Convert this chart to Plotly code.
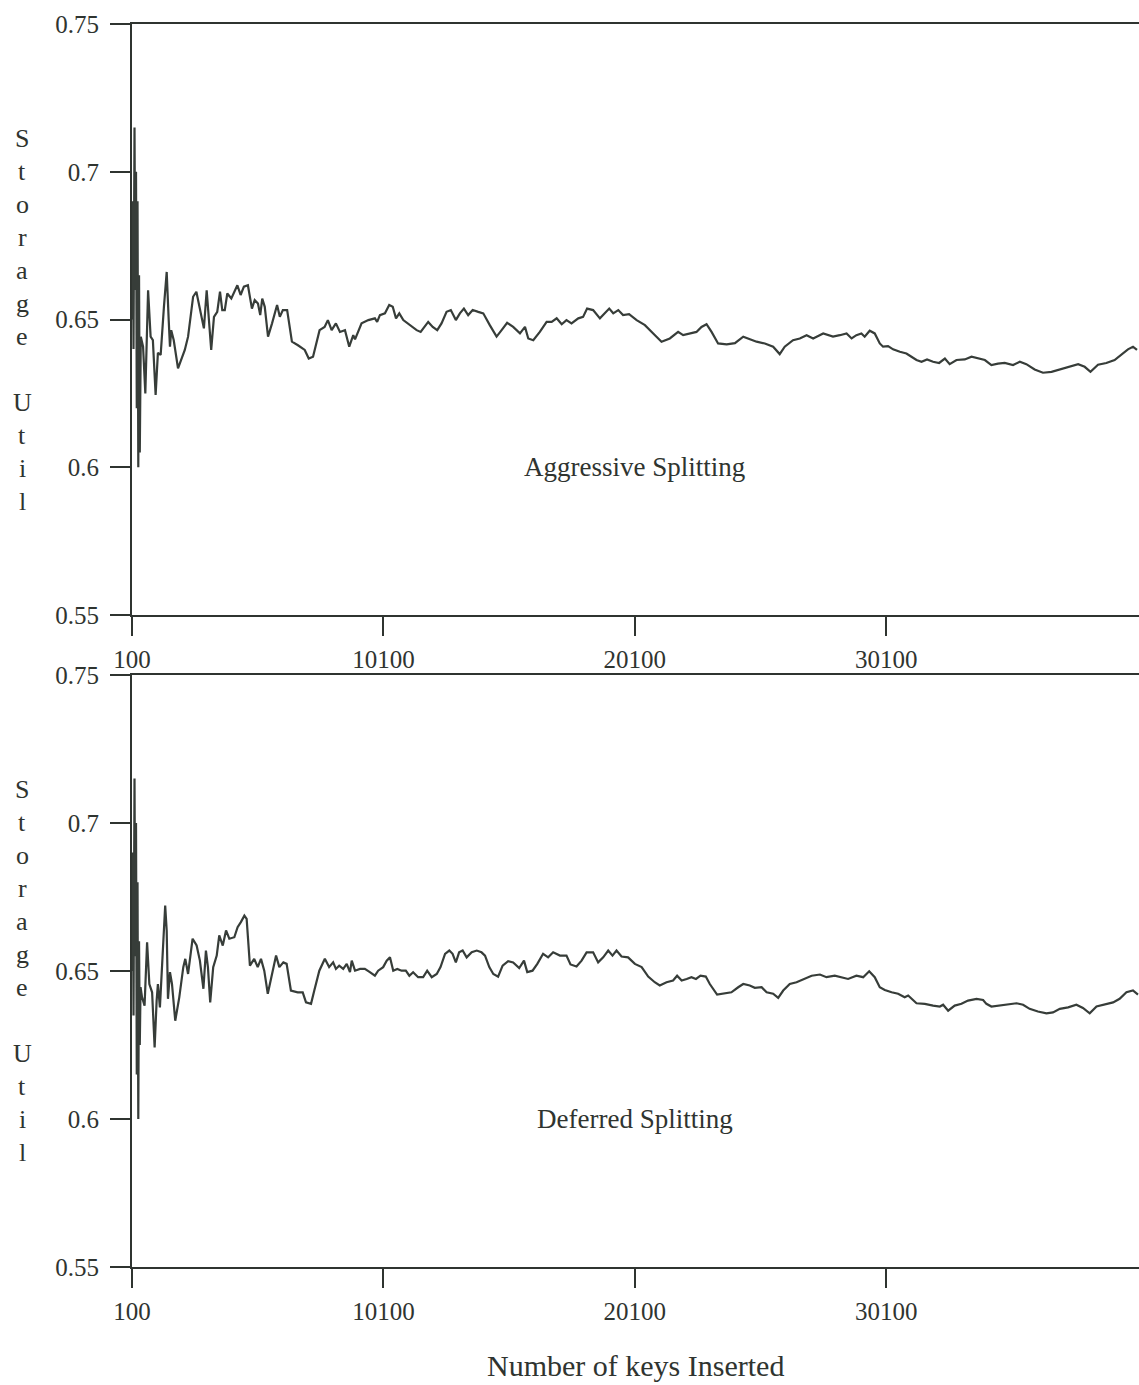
import plotly.graph_objects as go

# ---------------- data ----------------
aggr_keys = [100, 130, 160, 200, 230, 260, 290, 320, 350, 380, 410,
             450, 540, 630, 740, 840, 930, 1040, 1130, 1240, 1370, 1480, 1560, 1610, 1660, 1760,
             1930, 2060, 2200, 2330, 2530, 2660, 2790, 2960, 3070, 3150, 3250, 3360, 3490, 3600,
             3690, 3790, 3890, 4050, 4180, 4290, 4420, 4550, 4710, 4870, 4980, 5110, 5200, 5280,
             5380, 5510, 5670, 5870, 5980, 6100, 6270, 6460, 6700, 6970, 7130, 7300, 7560, 7760,
             7890, 8040, 8210, 8370, 8570, 8740, 8900, 8970, 9230, 9500, 9760, 9850, 9960, 10160,
             10330, 10470, 10600, 10730, 10890, 11150, 11420, 11580, 11880, 12060, 12240, 12410,
             12610, 12780, 12980, 13140, 13300, 13470, 13650, 13870, 14070, 14330, 14600, 14800,
             15020, 15260, 15530, 15730, 15860, 16060, 16320, 16590, 16790, 16990, 17190, 17380,
             17580, 17850, 18040, 18200, 18440, 18710, 18910, 19080, 19240, 19440, 19630, 19870,
             20170, 20500, 20830, 21160, 21490, 21820, 22020, 22290, 22550, 22750, 22950, 23150,
             23410, 23750, 24080, 24410, 24670, 24940, 25270, 25600, 25860, 26060, 26390, 26660,
             26930, 27190, 27590, 27980, 28250, 28520, 28720, 28910, 29110, 29240, 29440, 29640,
             29840, 29970, 30170, 30370, 30640, 30900, 31100, 31300, 31500, 31720, 31960, 32200,
             32430, 32620, 32890, 33220, 33490, 33750, 34020, 34280, 34540, 34810, 35140, 35410,
             35670, 36000, 36330, 36670, 37000, 37400, 37730, 37990, 38220, 38520, 38850, 39180,
             39450, 39710, 39910, 40070]
aggr_util = [0.650, 0.690, 0.640, 0.715, 0.660, 0.700, 0.620, 0.690, 0.600, 0.665, 0.605,
             0.6442, 0.6408, 0.6250, 0.6599, 0.6442, 0.6430, 0.6245, 0.6387, 0.6380, 0.6543, 0.6661, 0.6498, 0.6408, 0.6464, 0.6430,
             0.6335, 0.6363, 0.6397, 0.6442, 0.6577, 0.6594, 0.6543, 0.6470, 0.6599, 0.6492, 0.6397, 0.6509, 0.6526, 0.6594,
             0.6532, 0.6532, 0.6588, 0.6571, 0.6594, 0.6616, 0.6583, 0.6611, 0.6616, 0.6537, 0.6566, 0.6554, 0.6515, 0.6571,
             0.6543, 0.6442, 0.6487, 0.6549, 0.6509, 0.6532, 0.6532, 0.6425, 0.6413, 0.6397, 0.6368, 0.6374, 0.6464, 0.6475,
             0.6498, 0.6464, 0.6487, 0.6458, 0.6464, 0.6408, 0.6447, 0.6433, 0.6487, 0.6498, 0.6504, 0.6492, 0.6515, 0.6521,
             0.6549, 0.6543, 0.6504, 0.6521, 0.6498, 0.6481, 0.6464, 0.6458, 0.6492, 0.6475, 0.6464, 0.6487,
             0.6526, 0.6532, 0.6498, 0.6521, 0.6537, 0.6515, 0.6532, 0.6526, 0.6521, 0.6481, 0.6442, 0.6464,
             0.6489, 0.6475, 0.6453, 0.6475, 0.6436, 0.6430, 0.6458, 0.6492, 0.6492, 0.6504, 0.6484, 0.6498,
             0.6487, 0.6504, 0.6509, 0.6537, 0.6532, 0.6504, 0.6521, 0.6537, 0.6521, 0.6532, 0.6515, 0.6518,
             0.6498, 0.6481, 0.6453, 0.6425, 0.6436, 0.6458, 0.6447, 0.6453, 0.6458, 0.6475, 0.6484, 0.6458,
             0.6419, 0.6416, 0.6420, 0.6442, 0.6433, 0.6425, 0.6419, 0.6408, 0.6383, 0.6408, 0.6430, 0.6436,
             0.6447, 0.6436, 0.6453, 0.6442, 0.6447, 0.6453, 0.6436, 0.6447, 0.6453, 0.6442, 0.6462, 0.6453,
             0.6419, 0.6408, 0.6410, 0.6399, 0.6391, 0.6385, 0.6374, 0.6363, 0.6357, 0.6365, 0.6357, 0.6353,
             0.6368, 0.6349, 0.6363, 0.6365, 0.6374, 0.6368, 0.6363, 0.6346, 0.6351, 0.6353, 0.6346, 0.6357,
             0.6349, 0.6331, 0.6320, 0.6323, 0.6331, 0.6343, 0.6349, 0.6340, 0.6323, 0.6347, 0.6353, 0.6363,
             0.6380, 0.6399, 0.6408, 0.6397]

defer_keys = [100, 130, 160, 200, 230, 260, 290, 320, 350, 380, 410,
              440, 500, 600, 700, 790, 900, 1000, 1080, 1130, 1210, 1320, 1420, 1480, 1530, 1610,
              1690, 1820, 1980, 2140, 2220, 2330, 2510, 2670, 2800, 2940, 3040, 3120, 3210, 3330,
              3470, 3570, 3710, 3840, 3970, 4170, 4300, 4430, 4570, 4660, 4790, 4960, 5100, 5230,
              5360, 5500, 5670, 5830, 5960, 6120, 6250, 6420, 6690, 6890, 7020, 7220, 7350, 7550,
              7770, 7940, 8100, 8210, 8340, 8500, 8640, 8770, 8840, 8970, 9170, 9360, 9560, 9760,
              9890, 10090, 10230, 10360, 10490, 10650, 10820, 10990, 11130, 11280, 11480, 11680,
              11840, 12020, 12220, 12370, 12550, 12720, 12850, 12980, 13110, 13250, 13410, 13610,
              13810, 14000, 14140, 14310, 14470, 14660, 14840, 15060, 15260, 15500, 15690, 15820,
              16030, 16220, 16450, 16650, 16850, 17120, 17380, 17540, 17780, 17980, 18180, 18440,
              18640, 18840, 19040, 19210, 19370, 19570, 19830, 20100, 20370, 20630, 20890, 21090,
              21360, 21620, 21780, 21960, 22160, 22350, 22530, 22710, 22920, 23080, 23370, 23680,
              23940, 24210, 24410, 24670, 24870, 25140, 25340, 25600, 25800, 26000, 26260, 26530,
              26860, 27130, 27460, 27720, 28050, 28320, 28580, 28910, 29180, 29420, 29640, 29840,
              30040, 30310, 30570, 30830, 30970, 31300, 31630, 31960, 32230, 32360, 32560, 32820,
              33090, 33350, 33690, 33950, 34080, 34280, 34610, 34940, 35280, 35540, 35800, 36130,
              36470, 36730, 37000, 37330, 37660, 37920, 38190, 38460, 38790, 39120, 39380, 39650,
              39910, 40110]
defer_util = [0.650, 0.690, 0.635, 0.715, 0.655, 0.700, 0.615, 0.680, 0.600, 0.660, 0.625,
              0.6445, 0.6411, 0.6383, 0.6597, 0.6456, 0.6428, 0.6242, 0.6400, 0.6456, 0.6377, 0.6546, 0.6721, 0.6637, 0.6406, 0.6496,
              0.6456, 0.6332, 0.6411, 0.6513, 0.6541, 0.6490, 0.6609, 0.6586, 0.6535, 0.6440, 0.6569, 0.6513, 0.6394, 0.6513,
              0.6552, 0.6620, 0.6586, 0.6637, 0.6609, 0.6614, 0.6648, 0.6665, 0.6687, 0.6676, 0.6518, 0.6541, 0.6513, 0.6541,
              0.6501, 0.6423, 0.6490, 0.6552, 0.6513, 0.6529, 0.6524, 0.6434, 0.6428, 0.6428, 0.6394, 0.6389, 0.6434, 0.6501,
              0.6541, 0.6513, 0.6529, 0.6507, 0.6518, 0.6507, 0.6524, 0.6496, 0.6535, 0.6501, 0.6507, 0.6507, 0.6496, 0.6484,
              0.6501, 0.6513, 0.6535, 0.6546, 0.6501, 0.6507, 0.6501, 0.6501, 0.6484, 0.6496, 0.6479, 0.6479,
              0.6501, 0.6479, 0.6490, 0.6513, 0.6558, 0.6569, 0.6558, 0.6529, 0.6563, 0.6569, 0.6546, 0.6563,
              0.6569, 0.6563, 0.6552, 0.6513, 0.6490, 0.6481, 0.6518, 0.6533, 0.6529, 0.6510, 0.6535, 0.6496,
              0.6501, 0.6524, 0.6558, 0.6546, 0.6563, 0.6552, 0.6552, 0.6522, 0.6515, 0.6535, 0.6563, 0.6563,
              0.6529, 0.6546, 0.6569, 0.6552, 0.6569, 0.6549, 0.6546, 0.6524, 0.6513, 0.6481, 0.6462, 0.6451,
              0.6462, 0.6468, 0.6484, 0.6468, 0.6473, 0.6479, 0.6473, 0.6484, 0.6481, 0.6456, 0.6420, 0.6425,
              0.6428, 0.6445, 0.6456, 0.6451, 0.6443, 0.6445, 0.6428, 0.6423, 0.6409, 0.6434, 0.6456, 0.6462,
              0.6473, 0.6484, 0.6488, 0.6479, 0.6484, 0.6479, 0.6473, 0.6484, 0.6479, 0.6499, 0.6479, 0.6445,
              0.6436, 0.6428, 0.6423, 0.6411, 0.6417, 0.6391, 0.6389, 0.6383, 0.6380, 0.6386, 0.6366, 0.6383,
              0.6389, 0.6400, 0.6406, 0.6402, 0.6389, 0.6380, 0.6383, 0.6386, 0.6391, 0.6386, 0.6372, 0.6363,
              0.6357, 0.6360, 0.6372, 0.6377, 0.6386, 0.6375, 0.6357, 0.6380, 0.6386, 0.6394, 0.6406, 0.6428,
              0.6434, 0.6420]

x_tickvals = [100, 10100, 20100, 30100]
x_ticktext = ["100", "10100", "20100", "30100"]
y_tickvals = [0.55, 0.6, 0.65, 0.7, 0.75]
y_ticktext = ["0.55", "0.6", "0.65", "0.7", "0.75"]
panel_titles = ["Aggressive Splitting", "Deferred Splitting"]
y_title_letters = ["S", "t", "o", "r", "a", "g", "e", "", "U", "t", "i", "l"]
x_title = "Number of keys Inserted"

# ---------------- styling ----------------
FONT = "Liberation Serif"
INK = "#2f3430"
LINE = "#373d39"

fig = go.Figure()
fig.add_trace(go.Scatter(x=aggr_keys, y=aggr_util, mode="lines",
                         line=dict(color=LINE, width=2.2), xaxis="x", yaxis="y",
                         showlegend=False, hoverinfo="skip"))
fig.add_trace(go.Scatter(x=defer_keys, y=defer_util, mode="lines",
                         line=dict(color=LINE, width=2.2), xaxis="x2", yaxis="y2",
                         showlegend=False, hoverinfo="skip"))

xcommon = dict(range=[100, 40150], tickvals=x_tickvals, ticktext=x_ticktext,
               showline=True, linecolor=INK, linewidth=2, mirror=True,
               ticks="outside", ticklen=19, tickwidth=2, tickcolor=INK,
               showgrid=False, zeroline=False, ticklabelstandoff=2,
               tickfont=dict(family=FONT, size=25, color=INK))
ycommon = dict(range=[0.55, 0.75], tickvals=y_tickvals, ticktext=y_ticktext,
               showline=True, linecolor=INK, linewidth=2,
               ticks="outside", ticklen=20, tickwidth=2, tickcolor=INK,
               showgrid=False, zeroline=False, ticklabelstandoff=6,
               tickfont=dict(family=FONT, size=25, color=INK))

top_dom = [0.5245, 1.0]
bot_dom = [0.0, 0.4763]

fig.update_layout(
    width=1139, height=1385,
    margin=dict(l=132, r=0, t=24, b=118),
    paper_bgcolor="white", plot_bgcolor="white",
    xaxis=dict(anchor="y", domain=[0, 1], **xcommon),
    yaxis=dict(anchor="x", domain=top_dom, **ycommon),
    xaxis2=dict(anchor="y2", domain=[0, 1], **xcommon),
    yaxis2=dict(anchor="x2", domain=bot_dom, **ycommon),
)

ann = []
# panel labels
ann.append(dict(x=20100, y=0.6, xref="x", yref="y", text=panel_titles[0],
                showarrow=False, font=dict(family=FONT, size=27, color=INK)))
ann.append(dict(x=20100, y=0.6, xref="x2", yref="y2", text=panel_titles[1],
                showarrow=False, font=dict(family=FONT, size=27, color=INK)))
# vertical stacked y titles
for yref in ["y", "y2"]:
    for i, ch in enumerate(y_title_letters):
        if not ch:
            continue
        ann.append(dict(x=-0.109, xref="paper", y=0.7114 - i * 0.01117, yref=yref,
                        text=ch, showarrow=False, xanchor="center", yanchor="middle",
                        font=dict(family=FONT, size=26, color=INK)))
# x title
ann.append(dict(x=0.5, xref="paper", y=-0.0795, yref="paper", text=x_title,
                showarrow=False, yanchor="middle",
                font=dict(family=FONT, size=30, color=INK)))
fig.update_layout(annotations=ann)

fig.write_html("out.html")
